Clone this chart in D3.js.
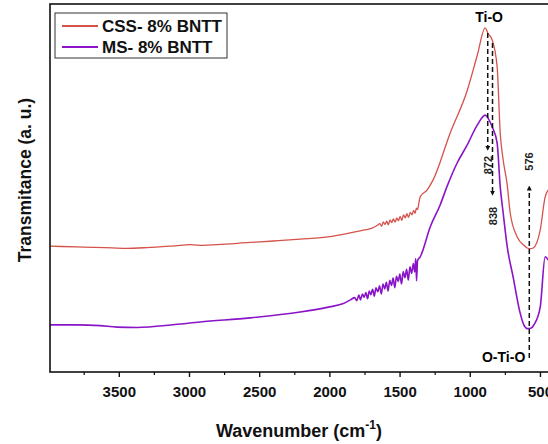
<!DOCTYPE html>
<html>
<head>
<meta charset="utf-8">
<script src="https://cdn.jsdelivr.net/npm/d3@7"></script>
<style>
  body { margin: 0; background: #fff; }
  svg { display: block; font-family: "Liberation Sans", Arial, sans-serif; }
</style>
</head>
<body>
<div id="chart"></div>
<script>
// wavenumber (cm-1) and transmitance (a.u.)
const cssWave = [3990, 3800, 3600, 3450, 3300, 3100, 2992, 2900, 2800, 2565, 2400, 2208, 1995, 1852, 1750,
  1700, 1660, 1640, 1628, 1616, 1604, 1592, 1580, 1568, 1556, 1544, 1532, 1520, 1508, 1496, 1484,
  1472, 1460, 1448, 1436, 1424, 1412, 1400, 1390, 1380, 1372, 1360, 1353, 1303, 1261, 1140, 1018,
  947, 890, 870, 840, 805, 783, 762, 733, 712, 662, 610, 591, 570, 548, 498, 463, 441];
const cssVal = [34.2, 34.0, 33.8, 33.6, 33.8, 34.3, 34.6, 34.4, 34.6, 35.2, 35.6, 36.1, 36.8, 37.8, 38.6,
  39.0, 39.8, 40.3, 39.6, 40.8, 40.1, 41.0, 40.0, 41.3, 40.6, 41.6, 40.7, 41.9, 41.1, 42.3, 41.2,
  42.7, 41.9, 43.0, 42.0, 43.4, 42.7, 43.9, 43.1, 44.5, 44.2, 46.5, 47.6, 49.5, 52.2, 64.9, 76.5,
  86.0, 93.5, 92.0, 90.2, 82.9, 64.9, 57.6, 50.8, 43.2, 36.7, 34.3, 33.7, 33.5, 33.7, 38.6, 47.6, 49.5];

const msWave = [3990, 3800, 3634, 3513, 3370, 3100, 2921, 2565, 2208, 2000, 1900, 1850, 1820, 1805,
  1790, 1778, 1765, 1752, 1740, 1728, 1716, 1705, 1692, 1680, 1668, 1655, 1643, 1630, 1618, 1606,
  1594, 1582, 1570, 1558, 1546, 1534, 1522, 1510, 1498, 1486, 1474, 1462, 1450, 1438, 1426, 1414,
  1402, 1392, 1385, 1379, 1372, 1353, 1282, 1211, 1161, 1090, 1018, 947, 890, 870, 840, 805, 783,
  762, 733, 691, 641, 615, 590, 565, 540, 498, 463, 441];
const msVal = [12.8, 12.8, 12.6, 12.2, 12.1, 12.9, 13.6, 14.7, 16.3, 17.7, 18.6, 19.6, 20.2, 19.4,
  20.9, 19.6, 21.2, 20.3, 21.6, 19.9, 22.0, 21.0, 22.5, 20.6, 22.9, 21.8, 23.4, 21.2, 23.9, 22.6,
  24.4, 22.0, 24.9, 23.5, 25.5, 22.9, 26.0, 24.6, 26.6, 23.9, 27.3, 25.6, 27.9, 25.0, 28.6, 26.8,
  29.5, 27.2, 30.8, 24.8, 30.3, 31.3, 39.4, 45.4, 50.5, 56.8, 61.7, 67.1, 69.8, 69.0, 66.6, 62.2, 50.3,
  43.2, 34.0, 25.8, 16.0, 12.8, 11.8, 11.9, 13.0, 17.7, 31.3, 30.4];

const seriesNames = ["CSS- 8% BNTT", "MS- 8% BNTT"];
const seriesColors = ["#d4524a", "#8a14c8"];
const xTicks = [3500, 3000, 2500, 2000, 1500, 1000, 500];
const xMinorTicks = [3750, 3250, 2750, 2250, 1750, 1250, 750];

// peak marks: wavenumber, y from, y to (a.u.), label
const peakMarks = [
  { wn: 872, y1: 92.1, y2: 60.8, label: "872", ly: 56.2 },
  { wn: 838, y1: 89.4, y2: 48.6, label: "838", ly: 42.4 },
  { wn: 576, y1: 3.8, y2: 50.0, label: "576", ly: 57.2 }
];

const width = 548, height = 444;
const margin = { top: 4, left: 50, bottom: 72 };
const plotRight = 554;

const svg = d3.select("#chart").append("svg")
  .attr("width", width)
  .attr("height", height);

const x = d3.scaleLinear().domain([3990, 400]).range([margin.left, plotRight]);
const y = d3.scaleLinear().domain([0, 100]).range([height - margin.bottom, margin.top]);

svg.append("defs").append("marker")
  .attr("id", "arr")
  .attr("viewBox", "0 0 10 10")
  .attr("refX", 5).attr("refY", 5)
  .attr("markerWidth", 5).attr("markerHeight", 5)
  .attr("markerUnits", "userSpaceOnUse")
  .attr("orient", "auto")
  .append("path")
  .attr("d", "M0,0 L10,5 L0,10 Z")
  .attr("fill", "#111");

// curves (left to right on screen)
const line = d3.line()
  .x(d => x(d[0]))
  .y(d => y(d[1]))
  .curve(d3.curveMonotoneX);

const cssData = d3.zip(cssWave, cssVal);
const msData = d3.zip(msWave, msVal);

svg.append("path").datum(cssData)
  .attr("d", line)
  .attr("fill", "none")
  .attr("stroke", seriesColors[0])
  .attr("stroke-width", 1.3);

svg.append("path").datum(msData)
  .attr("d", line)
  .attr("fill", "none")
  .attr("stroke", seriesColors[1])
  .attr("stroke-width", 1.6);

// dashed peak lines
peakMarks.forEach(function (p) {
  svg.append("line")
    .attr("x1", x(p.wn)).attr("x2", x(p.wn))
    .attr("y1", y(p.y1)).attr("y2", y(p.y2))
    .attr("stroke", "#111")
    .attr("stroke-width", 1.5)
    .attr("stroke-dasharray", "5,3")
    .attr("marker-end", "url(#arr)");
  svg.append("text")
    .attr("transform", "translate(" + (x(p.wn) + 4) + "," + y(p.ly) + ") rotate(-90)")
    .attr("text-anchor", "middle")
    .attr("font-size", "11px")
    .attr("font-weight", "bold")
    .attr("fill", "#222")
    .text(p.label);
});

svg.append("text")
  .attr("x", x(862)).attr("y", y(95.1))
  .attr("text-anchor", "middle")
  .attr("font-size", "14px")
  .attr("font-weight", "bold")
  .text("Ti-O");

svg.append("text")
  .attr("x", x(576) - 4).attr("y", y(2.7))
  .attr("text-anchor", "end")
  .attr("font-size", "14px")
  .attr("font-weight", "bold")
  .text("O-Ti-O");

// frame
svg.append("rect")
  .attr("x", margin.left).attr("y", margin.top)
  .attr("width", plotRight + 10 - margin.left)
  .attr("height", height - margin.bottom - margin.top)
  .attr("fill", "none")
  .attr("stroke", "#111")
  .attr("stroke-width", 1.6);

// x axis
const xAxis = d3.axisBottom(x).tickValues(xTicks).tickSize(5).tickPadding(9).tickFormat(d3.format("d"));
const gx = svg.append("g")
  .attr("transform", "translate(0," + (height - margin.bottom) + ")")
  .call(xAxis);
gx.select(".domain").remove();
gx.selectAll("line").attr("stroke", "#111").attr("stroke-width", 1.4);
gx.selectAll("text")
  .attr("font-size", "15px")
  .attr("font-weight", "bold")
  .attr("font-family", "'Liberation Sans', Arial, sans-serif")
  .attr("fill", "#111");

const gMinor = svg.append("g")
  .attr("transform", "translate(0," + (height - margin.bottom) + ")")
  .call(d3.axisBottom(x).tickValues(xMinorTicks).tickSize(3).tickFormat(""));
gMinor.select(".domain").remove();
gMinor.selectAll("line").attr("stroke", "#111").attr("stroke-width", 1.2);

// axis titles
const xt = svg.append("text")
  .attr("x", 299).attr("y", 437)
  .attr("text-anchor", "middle")
  .attr("font-size", "18px")
  .attr("font-weight", "bold")
  .attr("fill", "#111");
xt.append("tspan").text("Wavenumber (cm");
xt.append("tspan").attr("font-size", "12px").attr("dy", -8).text("-1");
xt.append("tspan").attr("dy", 8).text(")");

svg.append("text")
  .attr("transform", "translate(31,180) rotate(-90)")
  .attr("text-anchor", "middle")
  .attr("font-size", "17.5px")
  .attr("font-weight", "bold")
  .attr("fill", "#111")
  .text("Transmitance (a. u.)");

// legend
const legend = svg.append("g");
legend.append("rect")
  .attr("x", 55).attr("y", 13)
  .attr("width", 172).attr("height", 45)
  .attr("fill", "#fff")
  .attr("stroke", "#333")
  .attr("stroke-width", 1);

seriesNames.forEach(function (name, i) {
  legend.append("line")
    .attr("x1", 62).attr("x2", 98)
    .attr("y1", 26 + i * 21).attr("y2", 26 + i * 21)
    .attr("stroke", seriesColors[i])
    .attr("stroke-width", 2);
  legend.append("text")
    .attr("x", 102).attr("y", 32 + i * 21)
    .attr("font-size", "17px")
    .attr("font-weight", "bold")
    .attr("fill", "#111")
    .text(name);
});
</script>
</body>
</html>
